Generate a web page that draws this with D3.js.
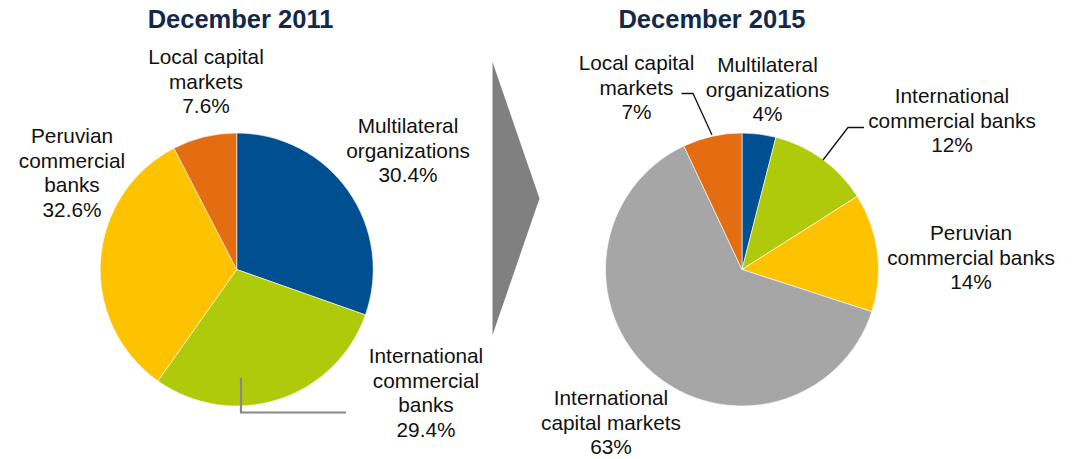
<!DOCTYPE html>
<html>
<head>
<meta charset="utf-8">
<script src="https://cdn.jsdelivr.net/npm/d3@7"></script>
<style>
  html, body { margin: 0; padding: 0; background: #fff; }
  svg { display: block; font-family: "Liberation Sans", Arial, sans-serif; }
</style>
</head>
<body>
<svg id="chart" width="1077" height="459"></svg>
<script>
// ---- data ----
const titles = ["December 2011", "December 2015"];
const categories2011 = ["Multilateral organizations", "International commercial banks", "Peruvian commercial banks", "Local capital markets"];
const values2011 = [30.4, 29.4, 32.6, 7.6];
const labels2011 = [
  ["Multilateral", "organizations", "30.4%"],
  ["International", "commercial", "banks", "29.4%"],
  ["Peruvian", "commercial", "banks", "32.6%"],
  ["Local capital", "markets", "7.6%"]
];
const categories2015 = ["Multilateral organizations", "International commercial banks", "Peruvian commercial banks", "International capital markets", "Local capital markets"];
const values2015 = [4, 12, 14, 63, 7];
const labels2015 = [
  ["Multilateral", "organizations", "4%"],
  ["International", "commercial banks", "12%"],
  ["Peruvian", "commercial banks", "14%"],
  ["International", "capital markets", "63%"],
  ["Local capital", "markets", "7%"]
];

// ---- styles / layout ----
const colorMap = {
  "Multilateral organizations": "#004f90",
  "International commercial banks": "#afca0b",
  "Peruvian commercial banks": "#fdc300",
  "Local capital markets": "#e46c11",
  "International capital markets": "#a6a6a6"
};
const radius = 136.5;
const lineH = 24.6;
const pies = [
  {
    cx: 236.7, cy: 269.5, titleX: 240.5,
    cats: categories2011, vals: values2011, labels: labels2011,
    labelPos: [[408, 133], [426, 363], [72, 143], [206, 64]],
    leaders: [[[241, 378], [241, 412.5], [346, 412.5]]],
    leaderColor: "#888888", leaderWidth: 2.2
  },
  {
    cx: 742, cy: 269.5, titleX: 712,
    cats: categories2015, vals: values2015, labels: labels2015,
    labelPos: [[767.5, 72], [952, 103], [971, 240], [611, 405], [636.5, 70]],
    leaders: [
      [[681.5, 93.5], [693, 93.5], [712, 135]],
      [[823, 160], [848, 127.5], [864, 127.5]]
    ],
    leaderColor: "#111111", leaderWidth: 1.3
  }
];

const svg = d3.select("#chart");

// arrow (chevron)
svg.append("path")
  .attr("d", d3.line()([[492.5, 62], [539.5, 198.5], [492.5, 335]]) + "Z")
  .attr("fill", "#808080");

pies.forEach(p => {
  const g = svg.append("g");
  // title
  g.append("text")
    .attr("x", p.titleX).attr("y", 28)
    .attr("text-anchor", "middle")
    .attr("font-size", 25.5).attr("font-weight", "bold")
    .attr("fill", "#14284a")
    .text(p === pies[0] ? titles[0] : titles[1]);

  const pie = d3.pie().sort(null).value(d => d.v);
  const arc = d3.arc().innerRadius(0).outerRadius(radius);
  const data = p.cats.map((c, i) => ({ c, v: p.vals[i] }));
  const pg = g.append("g").attr("transform", `translate(${p.cx},${p.cy})`);
  pg.selectAll("path").data(pie(data)).join("path")
    .attr("d", arc)
    .attr("fill", d => colorMap[d.data.c])
    .attr("stroke", "#ffffff").attr("stroke-width", 0.6);

  // leader lines
  p.leaders.forEach(pts => {
    g.append("path")
      .attr("d", d3.line()(pts))
      .attr("fill", "none")
      .attr("stroke", p.leaderColor)
      .attr("stroke-width", p.leaderWidth);
  });

  // labels
  p.labels.forEach((lines, i) => {
    const [x, y] = p.labelPos[i];
    const t = g.append("text")
      .attr("text-anchor", "middle")
      .attr("font-size", 20.8)
      .attr("fill", "#111111");
    lines.forEach((ln, j) => {
      t.append("tspan").attr("x", x).attr("y", y + j * lineH).text(ln);
    });
  });
});
</script>
</body>
</html>
